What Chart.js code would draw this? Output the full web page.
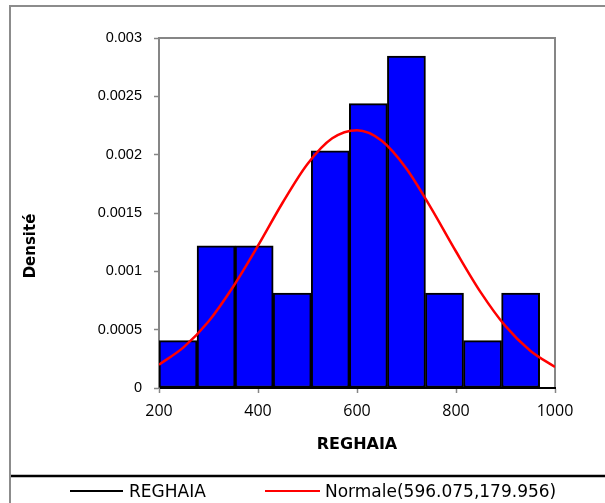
<!DOCTYPE html>
<html>
<head>
<meta charset="utf-8">
<script src="https://cdn.jsdelivr.net/npm/chart.js@4.4.1/dist/chart.umd.min.js"></script>
<style>
  html, body { margin: 0; padding: 0; background: #fff; }
  #wrap { width: 605px; height: 503px; }
</style>
</head>
<body>
<div id="wrap"><canvas id="chart" width="605" height="503"></canvas></div>
<script>
// histogram bins (centre of each class, width ~76.9)
const binCenters = [238.45, 315.35, 392.25, 469.15, 546.05, 622.95, 699.85, 776.75, 853.65, 930.55];
const densities = [0.000406, 0.001219, 0.001219, 0.000813, 0.002032, 0.002438, 0.002845, 0.000813, 0.000406, 0.000813];

// fitted normal curve
const normalX = [200, 250, 300, 350, 400, 450, 500, 550, 600, 650, 700, 750, 800, 850, 900, 950, 1000];
const normalY = [0.0002, 0.00035, 0.00057, 0.00087, 0.00122, 0.00159, 0.00192, 0.00214, 0.00221, 0.00212, 0.00188, 0.00154, 0.00117, 0.00082, 0.00053, 0.00032, 0.00018];

const seriesName = "REGHAIA";
const normalName = "Normale(596.075,179.956)";
const xTitle = "REGHAIA";
const yTitle = "Densité";

const grey = "#868686";

const framePlugin = {
  id: "frame",
  beforeDraw(chart) {
    const ctx = chart.ctx;
    const a = chart.chartArea;
    ctx.save();
    ctx.fillStyle = "#fff";
    ctx.fillRect(0, 0, chart.width, chart.height);
    // outer box
    ctx.strokeStyle = "#8c8c8c";
    ctx.lineWidth = 2;
    ctx.beginPath();
    ctx.moveTo(10, chart.height);
    ctx.lineTo(10, 6);
    ctx.lineTo(chart.width, 6);
    ctx.stroke();
    ctx.strokeStyle = "#000";
    ctx.lineWidth = 2.5;
    ctx.beginPath();
    ctx.moveTo(11, 476);
    ctx.lineTo(chart.width, 476);
    ctx.stroke();
    // plot area top / right
    ctx.strokeStyle = grey;
    ctx.lineWidth = 2;
    ctx.beginPath();
    ctx.moveTo(a.left, a.top);
    ctx.lineTo(a.right, a.top);
    ctx.lineTo(a.right, a.bottom);
    ctx.stroke();
    ctx.restore();
  },
  afterDraw(chart) {
    const ctx = chart.ctx;
    ctx.save();
    // y title
    ctx.translate(31, 246);
    ctx.rotate(-Math.PI / 2);
    ctx.font = "bold 15px 'DejaVu Sans'";
    ctx.fillStyle = "#000";
    ctx.textAlign = "center";
    ctx.textBaseline = "middle";
    ctx.fillText(yTitle, 0, 0);
    ctx.restore();

    // legend
    const ds = chart.data.datasets;
    const items = [
      { label: ds[0].label, color: ds[0].borderColor, x0: 70, x1: 123, tx: 129 },
      { label: ds[1].label, color: ds[1].borderColor, x0: 265, x1: 320, tx: 325 }
    ];
    ctx.save();
    ctx.font = "17px 'DejaVu Sans'";
    ctx.textBaseline = "alphabetic";
    ctx.textAlign = "left";
    items.forEach(it => {
      ctx.strokeStyle = it.color;
      ctx.lineWidth = 2;
      ctx.beginPath();
      ctx.moveTo(it.x0, 491);
      ctx.lineTo(it.x1, 491);
      ctx.stroke();
      ctx.fillStyle = "#000";
      ctx.fillText(it.label, it.tx, 497);
    });
    ctx.restore();
  }
};

new Chart(document.getElementById("chart"), {
  type: "bar",
  data: {
    datasets: [
      {
        type: "bar",
        label: seriesName,
        data: binCenters.map((x, i) => ({ x: x, y: densities[i] })),
        backgroundColor: "#0000FF",
        borderColor: "#000000",
        borderWidth: 2,
        borderSkipped: false,
        barPercentage: 1,
        categoryPercentage: 1,
        order: 1
      },
      {
        type: "line",
        label: normalName,
        data: normalX.map((x, i) => ({ x: x, y: normalY[i] })),
        borderColor: "#FF0000",
        borderWidth: 2.5,
        pointRadius: 0,
        fill: false,
        cubicInterpolationMode: "monotone",
        order: 0
      }
    ]
  },
  options: {
    responsive: false,
    animation: false,
    devicePixelRatio: 1,
    layout: { padding: { left: 0, top: 38, right: 50, bottom: 0 } },
    plugins: {
      legend: { display: false },
      tooltip: { enabled: false }
    },
    scales: {
      x: {
        type: "linear",
        min: 200,
        max: 1000,
        offset: false,
        afterFit: s => { s.height = 115; },
        ticks: {
          stepSize: 200,
          padding: 9,
          color: "#000",
          font: { family: "'Open Sans'", size: 16 },
          callback: v => String(v)
        },
        grid: {
          drawOnChartArea: false,
          offset: false,
          tickLength: 5,
          tickColor: grey,
          tickWidth: 1.5
        },
        border: { color: "#000", width: 2 },
        title: {
          display: true,
          text: xTitle,
          color: "#000",
          font: { family: "'DejaVu Sans'", size: 16, weight: "bold" },
          padding: { top: 0, bottom: 49 }
        }
      },
      y: {
        min: 0,
        max: 0.003,
        afterFit: s => { s.width = 159; },
        ticks: {
          stepSize: 0.0005,
          padding: 12,
          color: "#000",
          font: { family: "'Liberation Sans'", size: 14.5 },
          callback: v => String(+v.toFixed(4))
        },
        grid: {
          drawOnChartArea: false,
          tickLength: 5,
          tickColor: grey,
          tickWidth: 1.5
        },
        border: { color: grey, width: 2 }
      }
    }
  },
  plugins: [framePlugin]
});
</script>
</body>
</html>
